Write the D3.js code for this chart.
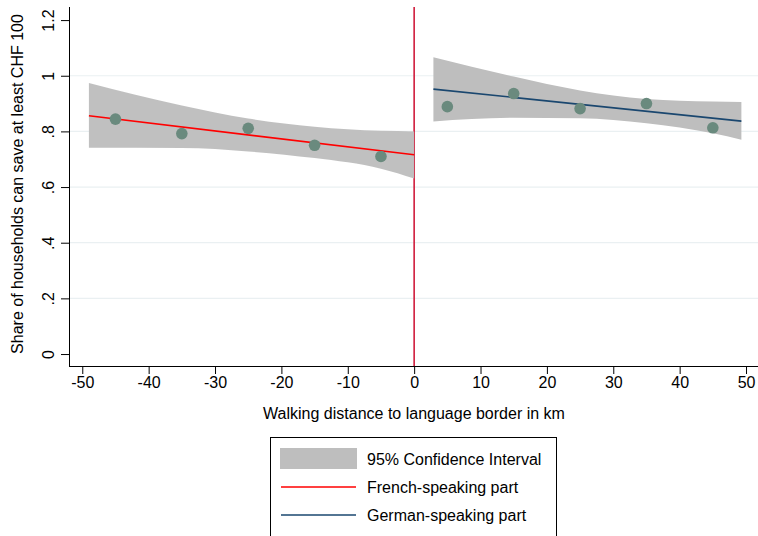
<!DOCTYPE html>
<html>
<head>
<meta charset="utf-8">
<script src="https://cdn.jsdelivr.net/npm/d3@7"></script>
<style>
  html, body { margin: 0; padding: 0; background: #fff; }
  svg { display: block; font-family: "Liberation Sans", Arial, sans-serif; }
</style>
</head>
<body>
<svg id="chart" width="758" height="536"></svg>
<script>
// Binned means: walking distance (km) vs share of households that can save
const frenchX = [-45, -35, -25, -15, -5];
const frenchY = [0.844, 0.792, 0.811, 0.750, 0.710];
const germanX = [5, 15, 25, 35, 45];
const germanY = [0.889, 0.936, 0.882, 0.900, 0.813];

// Linear fits (endpoints)
const frenchFitX = [-49, 0];
const frenchFitY = [0.856, 0.716];
const germanFitX = [2.9, 49.3];
const germanFitY = [0.952, 0.837];

// 95% confidence bands
const frenchBandX  = [-49, -35, -25, -15, -5, 0];
const frenchBandHi = [0.974, 0.893, 0.846, 0.817, 0.802, 0.800];
const frenchBandLo = [0.741, 0.740, 0.728, 0.704, 0.666, 0.631];
const germanBandX  = [2.9, 15, 25, 35, 45, 49.3];
const germanBandHi = [1.066, 0.997, 0.947, 0.916, 0.907, 0.906];
const germanBandLo = [0.836, 0.849, 0.847, 0.829, 0.793, 0.770];

const xTicks = [-50, -40, -30, -20, -10, 0, 10, 20, 30, 40, 50];
const yTicks = [0, 0.2, 0.4, 0.6, 0.8, 1, 1.2];
const yTickLabels = ["0", ".2", ".4", ".6", ".8", "1", "1.2"];
const gridValues = [0.2, 0.4, 0.6, 0.8, 1];

const legendLabels = ["95% Confidence Interval", "French-speaking part", "German-speaking part"];

const svg = d3.select("#chart");
const x = d3.scaleLinear().domain([-52, 52]).range([69, 759.3]);
const y = d3.scaleLinear().domain([-0.043, 1.247]).range([366, 7]);

// grid
svg.append("g").selectAll("line").data(gridValues).join("line")
  .attr("x1", 69).attr("x2", 758)
  .attr("y1", d => y(d)).attr("y2", d => y(d))
  .attr("stroke", "#eaf0f2").attr("stroke-width", 1.2);

// border line at zero
svg.append("line")
  .attr("x1", x(0)).attr("x2", x(0)).attr("y1", 7).attr("y2", 366)
  .attr("stroke", "#d01c3c").attr("stroke-width", 1.6);

// bands
const area = d3.area().curve(d3.curveMonotoneX)
  .x(d => x(d[0])).y0(d => y(d[1])).y1(d => y(d[2]));
svg.append("path")
  .datum(frenchBandX.map((v, i) => [v, frenchBandLo[i], frenchBandHi[i]]))
  .attr("d", area).attr("fill", "#bebebe").attr("fill-opacity", 0.97);
svg.append("path")
  .datum(germanBandX.map((v, i) => [v, germanBandLo[i], germanBandHi[i]]))
  .attr("d", area).attr("fill", "#bebebe");

// fit lines
const line = d3.line().x(d => x(d[0])).y(d => y(d[1]));
svg.append("path")
  .datum(frenchFitX.map((v, i) => [v, frenchFitY[i]]))
  .attr("d", line).attr("stroke", "#ff0000").attr("stroke-width", 1.6).attr("fill", "none");
svg.append("path")
  .datum(germanFitX.map((v, i) => [v, germanFitY[i]]))
  .attr("d", line).attr("stroke", "#1a476f").attr("stroke-width", 1.6).attr("fill", "none");

// binned points
const pts = frenchX.map((v, i) => [v, frenchY[i]]).concat(germanX.map((v, i) => [v, germanY[i]]));
svg.append("g").selectAll("circle").data(pts).join("circle")
  .attr("cx", d => x(d[0])).attr("cy", d => y(d[1])).attr("r", 5.8)
  .attr("fill", "#6a8a7e");

// axes
const xAxis = d3.axisBottom(x).tickValues(xTicks).tickSize(8).tickPadding(3)
  .tickFormat(d3.format("d"));
const gx = svg.append("g").attr("transform", "translate(0,366)").call(xAxis);
gx.select(".domain").attr("d", "M69,0.5H758");
gx.selectAll("text").attr("font-size", 16).attr("fill", "#000")
  .attr("font-family", "Liberation Sans, Arial, sans-serif")
  .text(d => d < 0 ? "-" + Math.abs(d) : d);

const yAxis = d3.axisLeft(y).tickValues(yTicks).tickSize(8)
  .tickFormat((d, i) => yTickLabels[i]);
const gy = svg.append("g").attr("transform", "translate(69,0)").call(yAxis);
gy.select(".domain").attr("d", "M0.5,7V366.5");
gy.selectAll(".tick text")
  .attr("font-size", 16).attr("fill", "#000")
  .attr("font-family", "Liberation Sans, Arial, sans-serif")
  .attr("text-anchor", "middle").attr("dy", null).attr("x", null)
  .attr("transform", "translate(-21,0) rotate(-90)")
  .attr("dominant-baseline", "central");

// axis titles
svg.append("text").attr("x", 414).attr("y", 419).attr("text-anchor", "middle")
  .attr("font-size", 16).text("Walking distance to language border in km");
svg.append("text").attr("transform", "translate(23,184) rotate(-90)")
  .attr("text-anchor", "middle").attr("font-size", 16)
  .text("Share of households can save at least CHF 100");

// legend
const lg = svg.append("g");
lg.append("rect").attr("x", 270.5).attr("y", 437.5).attr("width", 286).attr("height", 110)
  .attr("fill", "#fff").attr("stroke", "#000").attr("stroke-width", 1);
lg.append("rect").attr("x", 280).attr("y", 448).attr("width", 77).attr("height", 21).attr("fill", "#bebebe");
lg.append("line").attr("x1", 281).attr("x2", 356).attr("y1", 487).attr("y2", 487)
  .attr("stroke", "#ff0000").attr("stroke-width", 1.6);
lg.append("line").attr("x1", 281).attr("x2", 356).attr("y1", 515).attr("y2", 515)
  .attr("stroke", "#1a476f").attr("stroke-width", 1.6);
lg.selectAll("text.lab").data(legendLabels).join("text").attr("class", "lab")
  .attr("x", 367).attr("y", (d, i) => 459 + i * 28).attr("dy", "0.35em")
  .attr("font-size", 16).text(d => d);
</script>
</body>
</html>
